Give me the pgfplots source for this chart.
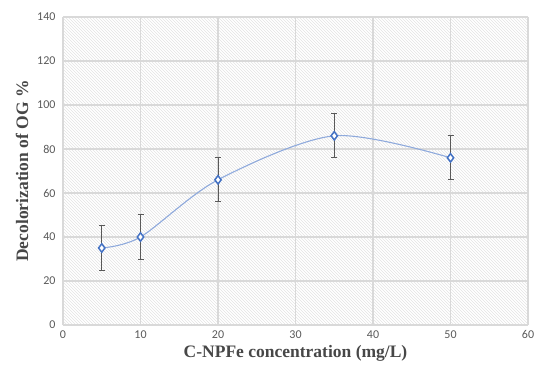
\documentclass[border=0pt]{standalone}
\usepackage{fontspec}
\setmainfont{Liberation Serif}
\newfontfamily\tickfont{Carlito}
\usepackage{pgfplots}
\pgfplotsset{compat=1.18}
\usetikzlibrary{patterns}
\definecolor{gridc}{RGB}{217,217,217}
\definecolor{mk}{RGB}{68,114,196}
\definecolor{ln}{RGB}{143,170,220}
\definecolor{tk}{RGB}{89,89,89}
\begin{document}
\begin{tikzpicture}[x=1pt,y=1pt]
\useasboundingbox (0,0) rectangle (537,372);
\begin{axis}[
  at={(63pt,47pt)}, anchor=south west,
  scale only axis, width=465pt, height=308pt,
  xmin=0, xmax=60, ymin=0, ymax=140,
  xtick={0,10,...,60}, ytick={0,20,...,140},
  axis line style={draw=none},
  tick style={draw=none},
  grid=major,
  major grid style={gridc, line width=1.2pt},
  axis background/.style={pattern=north west lines, pattern color=gray!22},
  /pgf/number format/assume math mode=true,
  tick label style={font=\tickfont\fontsize{12}{14}\selectfont, text=tk},
  xticklabel style={yshift=-2pt},
  yticklabel style={xshift=-4pt},
  xlabel={\textbf{C-NPFe concentration (mg/L)}},
  ylabel={\textbf{Decolorization of OG \%}},
  label style={font=\fontsize{17.5}{20}\selectfont, text=tk!80!black},
  xlabel style={yshift=0pt},
  ylabel style={yshift=2pt},
]
\addplot[ln, line width=1.1pt, smooth, tension=0.5,
  mark=diamond*, mark size=4.2pt,
  mark options={draw=mk, fill=white, line width=1.5pt},
  error bars/.cd, y dir=both, y explicit,
  error bar style={tk, line width=1pt},
  error mark options={rotate=90, mark size=3pt, tk, line width=1pt}]
coordinates {
 (5,35) +- (0,10)
 (10,40) +- (0,10)
 (20,66) +- (0,10)
 (35,86) +- (0,10)
 (50,76) +- (0,10)
};
\end{axis}
\end{tikzpicture}
\end{document}
